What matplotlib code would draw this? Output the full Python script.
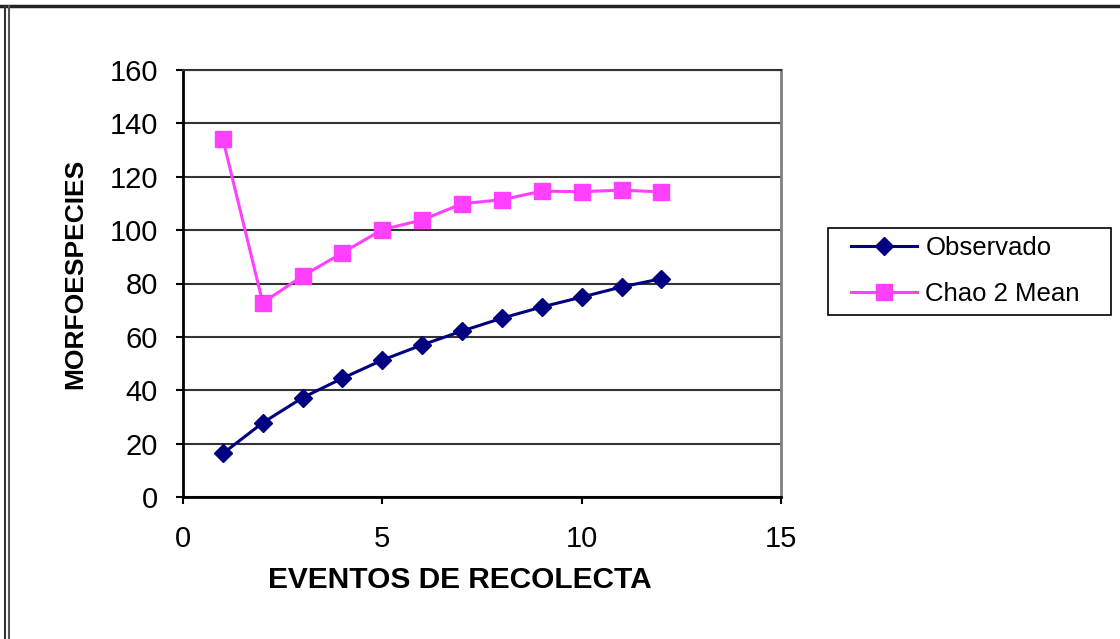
import matplotlib
matplotlib.use("Agg")
import matplotlib.pyplot as plt
from matplotlib.lines import Line2D
from matplotlib.patches import Rectangle

plt.rcParams['font.family'] = ['Liberation Sans', 'DejaVu Sans']

eventos = [1, 2, 3, 4, 5, 6, 7, 8, 9, 10, 11, 12]
observado = [16.3, 27.8, 37.2, 44.5, 51.3, 57.0, 62.2, 67.0, 71.2, 74.9, 78.7, 81.8]
chao2_mean = [134.1, 72.8, 82.8, 91.5, 100.2, 103.8, 109.9, 111.4, 114.6, 114.4, 115.0, 114.3]
y_ticks = [0, 20, 40, 60, 80, 100, 120, 140, 160]
x_ticks = [0, 5, 10, 15]

W, H = 1120, 639
fig = plt.figure(figsize=(W / 100, H / 100), dpi=100)
ax = fig.add_axes([183 / W, 1 - 497 / H, (781 - 183) / W, (497 - 70) / H])

ax.plot(eventos, observado, color='#000080', lw=2.2, marker='D', ms=9,
        markeredgecolor='#000080', markerfacecolor='#000080', label='Observado', zorder=4)
ax.plot(eventos, chao2_mean, color='#FF40FF', lw=2.2, marker='s', ms=11,
        markeredgecolor='#FF40FF', markerfacecolor='#FF40FF', label='Chao 2 Mean', zorder=3)

ax.set_xlim(0, 15)
ax.set_ylim(0, 160)
ax.set_xticks(x_ticks)
ax.set_yticks(y_ticks)
ax.set_xticklabels([str(v) for v in x_ticks])
ax.set_yticklabels([str(v) for v in y_ticks])
ax.tick_params(axis='both', direction='out', length=5, width=1.5, color='black',
               labelsize=21, labelcolor='black')
ax.tick_params(axis='x', pad=15)
ax.tick_params(axis='y', pad=13)

ax.yaxis.grid(True, color='#333333', lw=1.5)
ax.set_axisbelow(True)
for s in ['left', 'bottom']:
    ax.spines[s].set_color('black')
    ax.spines[s].set_linewidth(2)
ax.spines['right'].set_color('#808080')
ax.spines['right'].set_linewidth(2)
ax.spines['top'].set_color('#333333')
ax.spines['top'].set_linewidth(1.5)

fig.text(460 / W, 1 - 580 / H, 'EVENTOS DE RECOLECTA', ha='center', va='center',
         fontsize=21.5, fontweight='bold')
fig.text(75 / W, 1 - 274 / H, 'MORFOESPECIES', ha='center', va='center',
         rotation=90, fontsize=19, fontweight='bold')

# legend box drawn separately to match the reference's padding
fig.add_artist(Rectangle((828 / W, 1 - 315 / H), (1111 - 828) / W, (315 - 228) / H,
                         transform=fig.transFigure, fill=False, edgecolor='black',
                         lw=1.2, zorder=5))
leg = fig.legend(loc='center left', bbox_to_anchor=(851 / W, 1 - 271 / H),
                 bbox_transform=fig.transFigure, fontsize=18.5, frameon=False,
                 handlelength=2.57, borderpad=0, labelspacing=0.85,
                 handletextpad=0.32, borderaxespad=0)

# outer border (top and double left)
fig.add_artist(Line2D([0, 1], [1 - 5.5 / H, 1 - 5.5 / H], transform=fig.transFigure,
                      color='#222222', lw=2.5))
fig.add_artist(Line2D([5 / W, 5 / W], [0, 1 - 5.5 / H], transform=fig.transFigure,
                      color='#333333', lw=1.5))
fig.add_artist(Line2D([8.5 / W, 8.5 / W], [0, 1 - 5.5 / H], transform=fig.transFigure,
                      color='#555555', lw=1.5))

fig.savefig('out.png', dpi=100, facecolor='white')
